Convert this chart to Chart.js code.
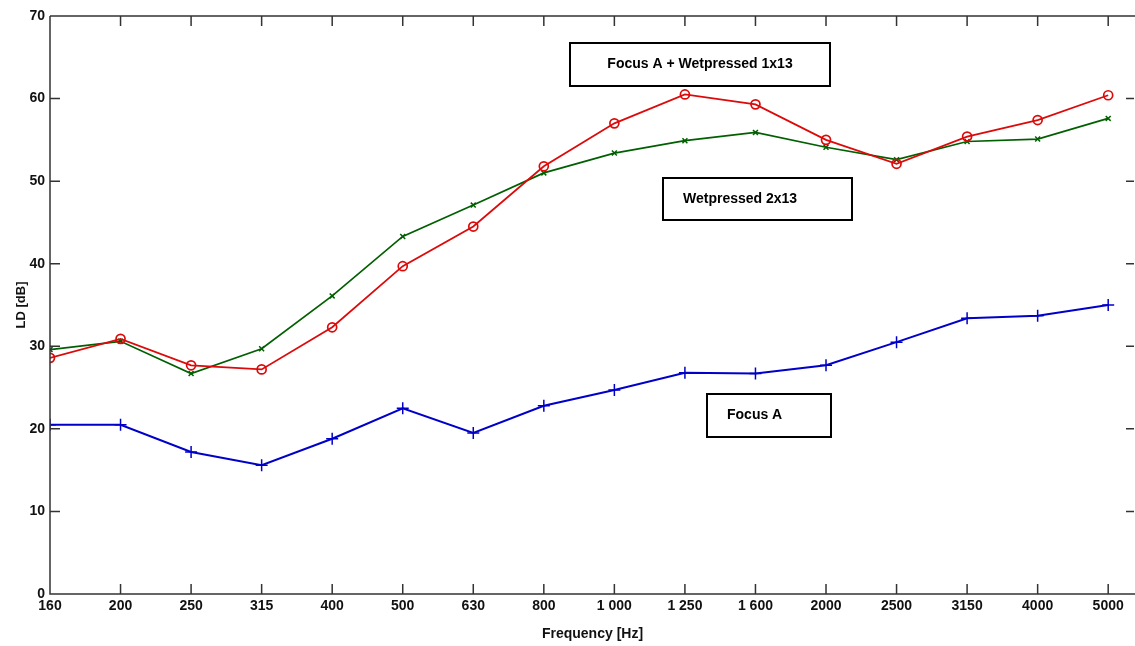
<!DOCTYPE html>
<html>
<head>
<meta charset="utf-8">
<script src="https://cdn.jsdelivr.net/npm/chart.js@4/dist/chart.umd.min.js"></script>
<style>
  html, body { margin: 0; padding: 0; background: #fff; }
  #wrap { width: 1135px; height: 646px; }
</style>
</head>
<body>
<div id="wrap"><canvas id="miGrafico"></canvas></div>
<script>
// frequencies of the third-octave bands
const frecuencias = ['160', '200', '250', '315', '400', '500', '630', '800', '1 000', '1 250', '1 600', '2000', '2500', '3150', '4000', '5000'];
const focusA = [20.5, 20.5, 17.2, 15.6, 18.8, 22.5, 19.5, 22.8, 24.7, 26.8, 26.7, 27.7, 30.5, 33.4, 33.7, 35.0];
const focusWet1x13 = [28.6, 30.9, 27.7, 27.2, 32.3, 39.7, 44.5, 51.8, 57.0, 60.5, 59.3, 55.0, 52.1, 55.4, 57.4, 60.4];
const wet2x13 = [29.6, 30.6, 26.7, 29.7, 36.1, 43.3, 47.1, 51.0, 53.4, 54.9, 55.9, 54.1, 52.6, 54.8, 55.1, 57.6];
const yTicks = [0, 10, 20, 30, 40, 50, 60, 70];

// text boxes, anchored to pixels
const cajas = [
  { text: 'Focus A + Wetpressed 1x13', x: 570, y: 43, w: 260, h: 43, tx: 700, align: 'center' },
  { text: 'Wetpressed 2x13', x: 663, y: 178, w: 189, h: 42, tx: 683, align: 'left' },
  { text: 'Focus A', x: 707, y: 394, w: 124, h: 43, tx: 727, align: 'left' }
];

const toPoints = arr => arr.map((v, i) => ({ x: i, y: v }));
const fuente = "'Liberation Sans', Arial, sans-serif";

const marco = {
  id: 'marco',
  afterDatasetsDraw(chart) {
    const { ctx, chartArea: a, scales } = chart;
    ctx.save();
    ctx.strokeStyle = '#333';
    ctx.lineWidth = 1.5;
    ctx.beginPath();
    ctx.moveTo(a.left, a.top); ctx.lineTo(a.right, a.top);
    ctx.moveTo(a.left, a.top); ctx.lineTo(a.left, a.bottom);
    ctx.lineTo(a.right, a.bottom);
    // inward ticks
    frecuencias.forEach((f, i) => {
      const x = scales.x.getPixelForValue(i);
      if (i === 0) return;
      ctx.moveTo(x, a.bottom); ctx.lineTo(x, a.bottom - 10);
      ctx.moveTo(x, a.top); ctx.lineTo(x, a.top + 10);
    });
    yTicks.forEach(v => {
      const y = scales.y.getPixelForValue(v);
      if (v === 0 || v === 70) return;
      ctx.moveTo(a.left, y); ctx.lineTo(a.left + 10, y);
      ctx.moveTo(a.right - 1, y); ctx.lineTo(a.right - 9, y);
    });
    ctx.stroke();

    ctx.font = 'bold 14px ' + fuente;
    ctx.textBaseline = 'middle';
    cajas.forEach(c => {
      ctx.fillStyle = '#fff';
      ctx.fillRect(c.x, c.y, c.w, c.h);
      ctx.strokeStyle = '#000';
      ctx.lineWidth = 2;
      ctx.strokeRect(c.x, c.y, c.w, c.h);
      ctx.fillStyle = '#000';
      ctx.textAlign = c.align;
      ctx.fillText(c.text, c.tx, c.y + c.h / 2);
    });
    ctx.restore();
  }
};

new Chart(document.getElementById('miGrafico'), {
  type: 'line',
  data: {
    datasets: [
      {
        label: 'Focus A',
        data: toPoints(focusA),
        borderColor: 'rgb(0, 0, 200)',
        backgroundColor: 'rgb(0, 0, 200)',
        borderWidth: 2,
        pointStyle: 'cross',
        pointRadius: 6,
        pointBorderWidth: 1.5,
        clip: 0
      },
      {
        label: 'Focus A + Wetpressed 1x13',
        data: toPoints(focusWet1x13),
        borderColor: 'rgb(220, 10, 10)',
        backgroundColor: 'rgba(0,0,0,0)',
        borderWidth: 1.8,
        pointStyle: 'circle',
        pointRadius: 4.5,
        pointBorderWidth: 1.7,
        clip: 0
      },
      {
        label: 'Wetpressed 2x13',
        data: toPoints(wet2x13),
        borderColor: 'rgb(0, 95, 0)',
        backgroundColor: 'rgb(0, 95, 0)',
        borderWidth: 1.7,
        pointStyle: 'crossRot',
        pointRadius: 3.5,
        pointBorderWidth: 1.5,
        clip: 0
      }
    ]
  },
  options: {
    responsive: true,
    maintainAspectRatio: false,
    animation: false,
    layout: { autoPadding: false, padding: { top: 16, right: 0, left: 0, bottom: 0 } },
    plugins: {
      legend: { display: false },
      tooltip: { enabled: false }
    },
    scales: {
      x: {
        type: 'linear',
        min: 0,
        max: 15.38,
        grid: { display: false, drawTicks: false },
        border: { display: false },
        afterBuildTicks: s => { s.ticks = frecuencias.map((f, i) => ({ value: i })); },
        afterFit: s => { s.height = 52; s.paddingLeft = 0; s.paddingRight = 0; },
        ticks: {
          autoSkip: false,
          maxRotation: 0,
          padding: 4,
          color: '#111',
          font: { family: fuente, size: 14, weight: 'bold' },
          callback: v => frecuencias[v]
        },
        title: {
          display: true,
          text: 'Frequency [Hz]',
          color: '#111',
          font: { family: fuente, size: 14, weight: 'bold' },
          padding: { top: 0, bottom: 3 }
        }
      },
      y: {
        min: 0,
        max: 70,
        grid: { display: false, drawTicks: false },
        border: { display: false },
        afterBuildTicks: s => { s.ticks = yTicks.map(v => ({ value: v })); },
        afterFit: s => { s.width = 50; s.paddingTop = 0; s.paddingBottom = 0; },
        ticks: {
          padding: 5,
          color: '#111',
          font: { family: fuente, size: 14, weight: 'bold' }
        },
        title: {
          display: true,
          text: 'LD [dB]',
          color: '#111',
          font: { family: fuente, size: 13, weight: 'bold' },
          padding: { top: 14, bottom: 0 }
        }
      }
    }
  },
  plugins: [marco]
});
</script>
</body>
</html>
